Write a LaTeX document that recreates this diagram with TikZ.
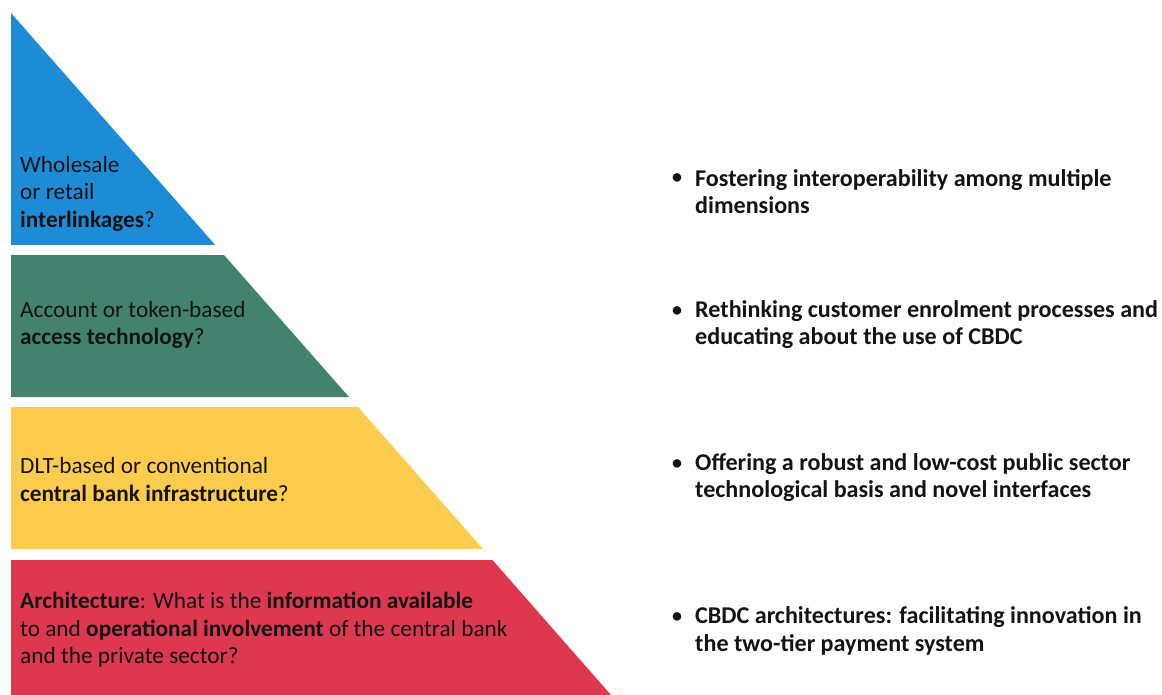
\documentclass[tikz,border=0pt]{standalone}
\usepackage{fontspec}
\setmainfont{Carlito}
\definecolor{pblue}{RGB}{30,139,214}
\definecolor{pgreen}{RGB}{66,130,111}
\definecolor{pyellow}{RGB}{253,204,78}
\definecolor{pred}{RGB}{221,56,80}
\definecolor{txt}{RGB}{20,20,20}
\tikzset{
  band/.style={draw=none},
  lefttext/.style={anchor=west, align=left, inner sep=0pt, text=txt, font=\fontsize{23.3}{27.5}\selectfont},
  righttext/.style={anchor=west, align=left, inner sep=0pt, text=txt, font=\bfseries\fontsize{24.1}{27.5}\selectfont},
  bulletmark/.style={anchor=center, inner sep=0pt, text=txt, font=\bfseries\fontsize{20}{27}\selectfont}
}
\begin{document}
\begin{tikzpicture}[x=1pt,y=-1pt]
\useasboundingbox (0,0) rectangle (1162,695);
% slope: x = 11 + 0.88*(y-13)
\fill[pblue,band] (11,13) -- (215.2,245) -- (11,245) -- cycle;
\fill[pgreen,band] (11,255) -- (224,255) -- (349,397) -- (11,397) -- cycle;
\fill[pyellow,band] (11,407) -- (358,407) -- (483,549) -- (11,549) -- cycle;
\fill[pred,band] (11,560) -- (492.5,560) -- (611,695) -- (11,695) -- cycle;

\node[lefttext] (t1) at (20,193.5) {Wholesale\\or retail\\\textbf{interlinkages}?};
\node[lefttext] (t2) at (20,325) {Account or token-based\\\textbf{access technology}?};
\node[lefttext] (t3) at (20,479.5) {DLT-based or conventional\\\textbf{central bank infrastructure}?};
\node[lefttext] (t4) at (20,630) {\textbf{Architecture}: What is the \textbf{information available}\\to and \textbf{operational involvement} of the central bank\\and the private sector?};

\node[bulletmark] (b1) at (677,179) {•};
\node[righttext] (r1) at (695,191.5) {Fostering interoperability among multiple\\dimensions};
\node[bulletmark] (b2) at (677,312) {•};
\node[righttext] (r2) at (695,324.5) {Rethinking customer enrolment processes and\\educating about the use of CBDC};
\node[bulletmark] (b3) at (677,465) {•};
\node[righttext] (r3) at (695,477.5) {Offering a robust and low-cost public sector\\technological basis and novel interfaces};
\node[bulletmark] (b4) at (677,618) {•};
\node[righttext] (r4) at (695,631) {CBDC architectures: facilitating innovation in\\the two-tier payment system};
\end{tikzpicture}
\end{document}
